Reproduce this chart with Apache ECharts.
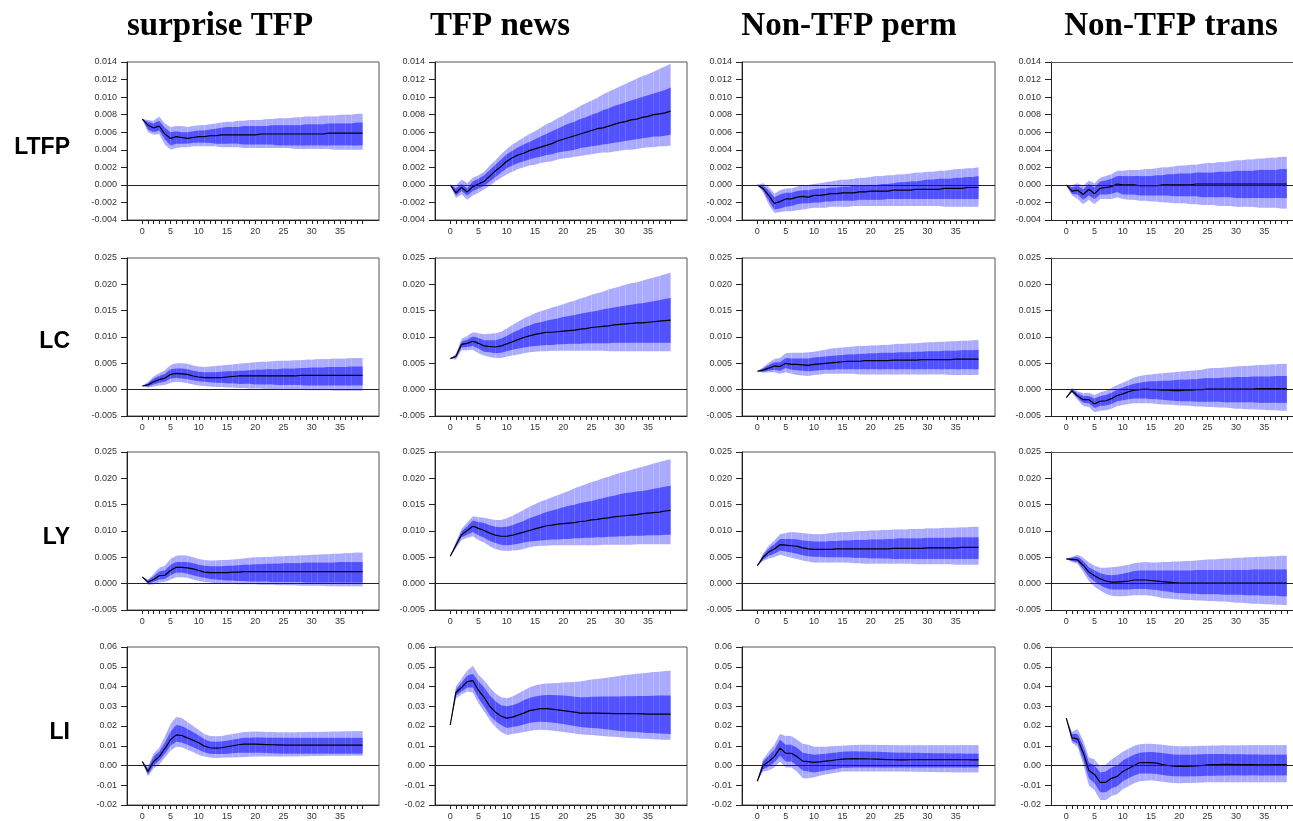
<!DOCTYPE html>
<html><head><meta charset="utf-8">
<script src="https://cdn.jsdelivr.net/npm/echarts@6/dist/echarts.min.js"></script>
<style>html,body{margin:0;padding:0;background:#fff}#c{width:1293px;height:821px}</style>
</head><body><div id="c"></div>
<script>
// ---------------- DATA ----------------
const shocks = ['surprise TFP', 'TFP news', 'Non-TFP perm', 'Non-TFP trans'];
const variables = ['LTFP', 'LC', 'LY', 'LI'];
const horizons = [0,1,2,3,4,5,6,7,8,9,10,11,12,13,14,15,16,17,18,19,20,21,22,23,24,25,26,27,28,29,30,31,32,33,34,35,36,37,38,39];
const xLabelValues = [0,5,10,15,20,25,30,35];
const yMinByRow = [-0.004, -0.005, -0.005, -0.02];
const yMaxByRow = [0.014, 0.025, 0.025, 0.06];
const yStepByRow = [0.002, 0.005, 0.005, 0.01];
const yDecimalsByRow = [3, 3, 3, 2];

// LTFP, surprise TFP
const LTFP_sur_med = [0.0075,0.0068,0.0065,0.0067,0.0058,0.0053,0.0055,0.0054,0.0053,0.0054,0.0055,0.0055,0.0056,0.0056,0.0057,0.0057,0.0057,0.0057,0.0057,0.0057,0.0057,0.0058,0.0058,0.0058,0.0058,0.0058,0.0058,0.0058,0.0058,0.0058,0.0058,0.0058,0.0058,0.0059,0.0059,0.0059,0.0059,0.0059,0.0059,0.0059];
const LTFP_sur_lo68 = [0.0075,0.0063,0.0060,0.0062,0.0052,0.0045,0.0047,0.0047,0.0047,0.0048,0.0048,0.0048,0.0048,0.0047,0.0047,0.0047,0.0047,0.0047,0.0046,0.0046,0.0046,0.0046,0.0046,0.0046,0.0045,0.0045,0.0045,0.0045,0.0045,0.0045,0.0045,0.0045,0.0045,0.0045,0.0045,0.0045,0.0045,0.0045,0.0045,0.0045];
const LTFP_sur_hi68 = [0.0075,0.0072,0.0070,0.0073,0.0065,0.0060,0.0061,0.0060,0.0060,0.0061,0.0062,0.0062,0.0063,0.0064,0.0065,0.0066,0.0066,0.0066,0.0067,0.0067,0.0067,0.0067,0.0067,0.0068,0.0068,0.0068,0.0068,0.0068,0.0068,0.0069,0.0069,0.0069,0.0069,0.0070,0.0070,0.0070,0.0070,0.0070,0.0071,0.0071];
const LTFP_sur_lo90 = [0.0075,0.0060,0.0057,0.0058,0.0046,0.0040,0.0042,0.0043,0.0043,0.0044,0.0044,0.0044,0.0044,0.0044,0.0043,0.0043,0.0043,0.0043,0.0042,0.0042,0.0042,0.0042,0.0042,0.0042,0.0042,0.0042,0.0042,0.0041,0.0041,0.0041,0.0041,0.0041,0.0041,0.0041,0.0040,0.0040,0.0040,0.0040,0.0040,0.0040];
const LTFP_sur_hi90 = [0.0075,0.0074,0.0073,0.0078,0.0070,0.0066,0.0067,0.0067,0.0066,0.0067,0.0068,0.0068,0.0069,0.0070,0.0071,0.0072,0.0072,0.0073,0.0073,0.0074,0.0074,0.0074,0.0075,0.0075,0.0076,0.0076,0.0076,0.0077,0.0077,0.0078,0.0078,0.0078,0.0079,0.0079,0.0079,0.0080,0.0080,0.0080,0.0081,0.0081];

// LTFP, TFP news
const LTFP_news_med = [0.0000,-0.0009,-0.0003,-0.0008,-0.0002,0.0001,0.0004,0.0010,0.0016,0.0021,0.0027,0.0031,0.0034,0.0036,0.0039,0.0041,0.0043,0.0045,0.0047,0.0050,0.0052,0.0054,0.0056,0.0058,0.0060,0.0062,0.0064,0.0065,0.0067,0.0069,0.0071,0.0072,0.0074,0.0075,0.0077,0.0078,0.0080,0.0081,0.0082,0.0084];
const LTFP_news_lo68 = [0.0000,-0.0012,-0.0007,-0.0012,-0.0007,-0.0004,-0.0001,0.0004,0.0009,0.0014,0.0019,0.0022,0.0025,0.0027,0.0029,0.0031,0.0032,0.0034,0.0035,0.0037,0.0038,0.0039,0.0040,0.0042,0.0043,0.0044,0.0045,0.0046,0.0047,0.0048,0.0049,0.0050,0.0051,0.0052,0.0053,0.0054,0.0055,0.0055,0.0056,0.0057];
const LTFP_news_hi68 = [0.0000,-0.0004,0.0001,-0.0004,0.0004,0.0007,0.0011,0.0017,0.0023,0.0029,0.0035,0.0039,0.0043,0.0046,0.0049,0.0052,0.0055,0.0058,0.0061,0.0064,0.0067,0.0070,0.0072,0.0075,0.0077,0.0080,0.0082,0.0085,0.0087,0.0090,0.0092,0.0094,0.0096,0.0098,0.0100,0.0102,0.0104,0.0106,0.0108,0.0111];
const LTFP_news_lo90 = [0.0000,-0.0015,-0.0011,-0.0017,-0.0012,-0.0009,-0.0005,-0.0001,0.0004,0.0008,0.0012,0.0015,0.0018,0.0020,0.0022,0.0023,0.0025,0.0026,0.0027,0.0029,0.0030,0.0031,0.0032,0.0033,0.0034,0.0035,0.0036,0.0037,0.0037,0.0038,0.0039,0.0040,0.0040,0.0041,0.0042,0.0043,0.0043,0.0044,0.0044,0.0045];
const LTFP_news_hi90 = [0.0000,-0.0001,0.0006,0.0002,0.0008,0.0011,0.0015,0.0022,0.0028,0.0035,0.0041,0.0046,0.0050,0.0054,0.0058,0.0061,0.0065,0.0069,0.0072,0.0076,0.0079,0.0083,0.0086,0.0090,0.0093,0.0096,0.0099,0.0103,0.0106,0.0109,0.0112,0.0115,0.0118,0.0121,0.0124,0.0126,0.0129,0.0132,0.0135,0.0138];

// LTFP, Non-TFP perm
const LTFP_perm_med = [0.0000,-0.0004,-0.0012,-0.0021,-0.0019,-0.0016,-0.0016,-0.0014,-0.0013,-0.0014,-0.0012,-0.0012,-0.0011,-0.0010,-0.0010,-0.0009,-0.0009,-0.0009,-0.0008,-0.0008,-0.0007,-0.0007,-0.0007,-0.0007,-0.0006,-0.0006,-0.0006,-0.0006,-0.0005,-0.0005,-0.0005,-0.0005,-0.0005,-0.0004,-0.0004,-0.0004,-0.0004,-0.0003,-0.0003,-0.0003];
const LTFP_perm_lo68 = [0.0000,-0.0006,-0.0018,-0.0028,-0.0027,-0.0025,-0.0024,-0.0022,-0.0021,-0.0021,-0.0020,-0.0020,-0.0019,-0.0019,-0.0018,-0.0018,-0.0018,-0.0018,-0.0017,-0.0017,-0.0017,-0.0017,-0.0017,-0.0016,-0.0016,-0.0016,-0.0016,-0.0016,-0.0016,-0.0016,-0.0016,-0.0016,-0.0016,-0.0016,-0.0016,-0.0016,-0.0016,-0.0016,-0.0016,-0.0016];
const LTFP_perm_hi68 = [0.0000,-0.0001,-0.0006,-0.0014,-0.0011,-0.0009,-0.0009,-0.0007,-0.0006,-0.0006,-0.0005,-0.0004,-0.0004,-0.0003,-0.0003,-0.0002,-0.0002,-0.0001,-0.0001,0.0000,0.0000,0.0000,0.0001,0.0001,0.0002,0.0003,0.0003,0.0004,0.0004,0.0005,0.0006,0.0006,0.0007,0.0007,0.0007,0.0008,0.0008,0.0009,0.0009,0.0010];
const LTFP_perm_lo90 = [0.0000,-0.0008,-0.0022,-0.0032,-0.0031,-0.0030,-0.0030,-0.0029,-0.0028,-0.0027,-0.0026,-0.0026,-0.0026,-0.0025,-0.0025,-0.0025,-0.0025,-0.0024,-0.0024,-0.0024,-0.0024,-0.0024,-0.0024,-0.0024,-0.0024,-0.0024,-0.0024,-0.0024,-0.0024,-0.0024,-0.0024,-0.0024,-0.0024,-0.0025,-0.0025,-0.0025,-0.0025,-0.0025,-0.0025,-0.0025];
const LTFP_perm_hi90 = [0.0000,0.0002,-0.0002,-0.0010,-0.0006,-0.0004,-0.0004,-0.0002,0.0000,0.0000,0.0001,0.0002,0.0003,0.0004,0.0005,0.0006,0.0006,0.0007,0.0008,0.0008,0.0009,0.0010,0.0010,0.0011,0.0011,0.0012,0.0012,0.0013,0.0014,0.0014,0.0015,0.0015,0.0016,0.0016,0.0017,0.0018,0.0018,0.0019,0.0019,0.0020];

// LTFP, Non-TFP trans
const LTFP_trans_med = [0.0000,-0.0007,-0.0006,-0.0011,-0.0005,-0.0010,-0.0004,-0.0003,-0.0002,0.0001,0.0000,0.0000,0.0000,-0.0001,-0.0001,-0.0001,-0.0001,0.0000,0.0000,0.0000,0.0000,0.0000,0.0000,0.0001,0.0001,0.0001,0.0001,0.0001,0.0001,0.0001,0.0001,0.0001,0.0001,0.0001,0.0001,0.0001,0.0001,0.0001,0.0001,0.0001];
const LTFP_trans_lo68 = [0.0000,-0.0010,-0.0011,-0.0017,-0.0012,-0.0016,-0.0011,-0.0011,-0.0010,-0.0008,-0.0011,-0.0011,-0.0011,-0.0012,-0.0012,-0.0012,-0.0012,-0.0012,-0.0012,-0.0013,-0.0013,-0.0013,-0.0013,-0.0013,-0.0014,-0.0014,-0.0014,-0.0014,-0.0014,-0.0014,-0.0015,-0.0015,-0.0015,-0.0015,-0.0015,-0.0015,-0.0015,-0.0015,-0.0015,-0.0015];
const LTFP_trans_hi68 = [0.0000,-0.0003,-0.0001,-0.0005,0.0001,-0.0003,0.0004,0.0005,0.0007,0.0010,0.0010,0.0010,0.0010,0.0010,0.0010,0.0010,0.0011,0.0011,0.0012,0.0012,0.0013,0.0013,0.0013,0.0014,0.0014,0.0014,0.0014,0.0015,0.0015,0.0015,0.0016,0.0016,0.0016,0.0016,0.0017,0.0017,0.0017,0.0017,0.0018,0.0018];
const LTFP_trans_lo90 = [0.0000,-0.0012,-0.0016,-0.0022,-0.0017,-0.0022,-0.0016,-0.0016,-0.0016,-0.0014,-0.0016,-0.0017,-0.0017,-0.0018,-0.0018,-0.0019,-0.0019,-0.0020,-0.0020,-0.0021,-0.0021,-0.0021,-0.0022,-0.0022,-0.0023,-0.0023,-0.0023,-0.0024,-0.0024,-0.0024,-0.0025,-0.0025,-0.0025,-0.0025,-0.0026,-0.0026,-0.0026,-0.0026,-0.0027,-0.0027];
const LTFP_trans_hi90 = [0.0000,0.0000,0.0002,-0.0001,0.0005,0.0002,0.0008,0.0010,0.0012,0.0016,0.0016,0.0017,0.0017,0.0017,0.0018,0.0018,0.0019,0.0020,0.0020,0.0021,0.0022,0.0022,0.0023,0.0023,0.0024,0.0025,0.0025,0.0026,0.0026,0.0027,0.0028,0.0028,0.0029,0.0029,0.0030,0.0030,0.0031,0.0031,0.0032,0.0032];

// LC, surprise TFP
const LC_sur_med = [0.0007,0.0009,0.0015,0.0019,0.0022,0.0029,0.0031,0.0030,0.0029,0.0026,0.0024,0.0023,0.0023,0.0023,0.0023,0.0024,0.0025,0.0026,0.0026,0.0026,0.0026,0.0026,0.0026,0.0026,0.0026,0.0026,0.0026,0.0026,0.0027,0.0027,0.0027,0.0027,0.0027,0.0027,0.0027,0.0027,0.0027,0.0027,0.0027,0.0027];
const LC_sur_lo68 = [0.0007,0.0006,0.0010,0.0013,0.0015,0.0021,0.0022,0.0021,0.0020,0.0018,0.0016,0.0015,0.0014,0.0013,0.0013,0.0012,0.0012,0.0011,0.0011,0.0011,0.0010,0.0010,0.0010,0.0010,0.0009,0.0009,0.0009,0.0009,0.0009,0.0008,0.0008,0.0008,0.0008,0.0008,0.0008,0.0008,0.0008,0.0008,0.0008,0.0008];
const LC_sur_hi68 = [0.0007,0.0012,0.0021,0.0026,0.0030,0.0039,0.0040,0.0040,0.0039,0.0036,0.0034,0.0033,0.0033,0.0033,0.0034,0.0035,0.0035,0.0036,0.0036,0.0037,0.0038,0.0038,0.0039,0.0039,0.0039,0.0040,0.0040,0.0040,0.0041,0.0041,0.0042,0.0042,0.0042,0.0043,0.0043,0.0043,0.0043,0.0044,0.0044,0.0044];
const LC_sur_lo90 = [0.0007,0.0004,0.0006,0.0008,0.0009,0.0013,0.0015,0.0014,0.0012,0.0010,0.0008,0.0007,0.0006,0.0005,0.0005,0.0004,0.0004,0.0003,0.0003,0.0002,0.0002,0.0002,0.0001,0.0001,0.0001,0.0000,0.0000,0.0000,0.0000,-0.0001,-0.0001,-0.0001,-0.0001,-0.0001,-0.0002,-0.0002,-0.0002,-0.0002,-0.0002,-0.0002];
const LC_sur_hi90 = [0.0007,0.0014,0.0025,0.0031,0.0037,0.0047,0.0050,0.0050,0.0049,0.0046,0.0044,0.0043,0.0044,0.0045,0.0046,0.0047,0.0048,0.0049,0.0050,0.0051,0.0052,0.0053,0.0053,0.0054,0.0055,0.0055,0.0055,0.0056,0.0056,0.0057,0.0057,0.0058,0.0058,0.0058,0.0059,0.0059,0.0059,0.0060,0.0060,0.0060];

// LC, TFP news
const LC_news_med = [0.0059,0.0063,0.0086,0.0088,0.0092,0.0088,0.0083,0.0082,0.0081,0.0083,0.0087,0.0091,0.0095,0.0099,0.0102,0.0105,0.0107,0.0109,0.0109,0.0110,0.0111,0.0112,0.0113,0.0115,0.0116,0.0118,0.0119,0.0120,0.0121,0.0123,0.0124,0.0125,0.0126,0.0127,0.0127,0.0128,0.0129,0.0130,0.0131,0.0132];
const LC_news_lo68 = [0.0059,0.0061,0.0080,0.0081,0.0083,0.0078,0.0072,0.0071,0.0069,0.0070,0.0073,0.0076,0.0078,0.0080,0.0082,0.0083,0.0084,0.0085,0.0085,0.0086,0.0086,0.0087,0.0087,0.0087,0.0088,0.0088,0.0088,0.0088,0.0088,0.0089,0.0089,0.0089,0.0089,0.0089,0.0089,0.0089,0.0089,0.0089,0.0089,0.0089];
const LC_news_hi68 = [0.0059,0.0066,0.0091,0.0095,0.0101,0.0098,0.0094,0.0094,0.0094,0.0097,0.0102,0.0108,0.0113,0.0118,0.0122,0.0126,0.0128,0.0131,0.0133,0.0135,0.0138,0.0140,0.0142,0.0144,0.0146,0.0148,0.0150,0.0152,0.0154,0.0156,0.0158,0.0160,0.0161,0.0163,0.0164,0.0166,0.0168,0.0170,0.0172,0.0174];
const LC_news_lo90 = [0.0059,0.0057,0.0075,0.0075,0.0076,0.0069,0.0065,0.0062,0.0060,0.0060,0.0063,0.0065,0.0067,0.0069,0.0071,0.0072,0.0073,0.0073,0.0074,0.0074,0.0074,0.0074,0.0074,0.0074,0.0074,0.0074,0.0074,0.0074,0.0073,0.0073,0.0073,0.0073,0.0073,0.0073,0.0073,0.0073,0.0073,0.0073,0.0073,0.0073];
const LC_news_hi90 = [0.0059,0.0068,0.0096,0.0102,0.0109,0.0107,0.0105,0.0106,0.0107,0.0110,0.0116,0.0123,0.0129,0.0135,0.0140,0.0145,0.0149,0.0152,0.0156,0.0159,0.0162,0.0166,0.0169,0.0173,0.0176,0.0180,0.0183,0.0186,0.0190,0.0193,0.0196,0.0199,0.0202,0.0204,0.0207,0.0210,0.0213,0.0216,0.0219,0.0222];

// LC, Non-TFP perm
const LC_perm_med = [0.0035,0.0037,0.0041,0.0045,0.0044,0.0050,0.0048,0.0048,0.0047,0.0046,0.0048,0.0049,0.0050,0.0051,0.0052,0.0053,0.0054,0.0054,0.0054,0.0055,0.0055,0.0055,0.0055,0.0055,0.0056,0.0056,0.0056,0.0056,0.0056,0.0057,0.0057,0.0057,0.0057,0.0057,0.0057,0.0058,0.0058,0.0058,0.0058,0.0058];
const LC_perm_lo68 = [0.0035,0.0034,0.0036,0.0038,0.0036,0.0041,0.0038,0.0037,0.0036,0.0035,0.0036,0.0037,0.0038,0.0038,0.0039,0.0039,0.0039,0.0039,0.0039,0.0039,0.0039,0.0039,0.0039,0.0039,0.0039,0.0039,0.0039,0.0039,0.0039,0.0039,0.0039,0.0039,0.0039,0.0039,0.0039,0.0039,0.0039,0.0039,0.0039,0.0039];
const LC_perm_hi68 = [0.0035,0.0040,0.0047,0.0052,0.0052,0.0060,0.0059,0.0059,0.0059,0.0059,0.0061,0.0062,0.0063,0.0064,0.0065,0.0066,0.0067,0.0067,0.0068,0.0068,0.0069,0.0069,0.0070,0.0070,0.0070,0.0071,0.0071,0.0071,0.0072,0.0072,0.0073,0.0073,0.0073,0.0074,0.0074,0.0074,0.0075,0.0075,0.0075,0.0076];
const LC_perm_lo90 = [0.0035,0.0032,0.0033,0.0033,0.0030,0.0033,0.0030,0.0028,0.0027,0.0026,0.0028,0.0029,0.0030,0.0030,0.0030,0.0030,0.0030,0.0030,0.0029,0.0029,0.0029,0.0029,0.0029,0.0029,0.0029,0.0029,0.0029,0.0029,0.0029,0.0029,0.0029,0.0029,0.0029,0.0029,0.0028,0.0028,0.0028,0.0028,0.0028,0.0028];
const LC_perm_hi90 = [0.0035,0.0042,0.0051,0.0058,0.0060,0.0069,0.0070,0.0070,0.0070,0.0071,0.0072,0.0074,0.0076,0.0078,0.0079,0.0080,0.0081,0.0082,0.0083,0.0083,0.0084,0.0084,0.0085,0.0085,0.0086,0.0087,0.0087,0.0088,0.0088,0.0089,0.0090,0.0090,0.0091,0.0091,0.0092,0.0092,0.0093,0.0093,0.0094,0.0094];

// LC, Non-TFP trans
const LC_trans_med = [-0.0015,-0.0002,-0.0012,-0.0019,-0.0019,-0.0027,-0.0022,-0.0021,-0.0017,-0.0011,-0.0008,-0.0004,-0.0001,0.0000,0.0001,0.0000,0.0000,-0.0001,-0.0001,-0.0002,-0.0002,-0.0001,-0.0001,0.0000,0.0000,0.0001,0.0001,0.0001,0.0001,0.0001,0.0001,0.0001,0.0001,0.0001,0.0002,0.0002,0.0002,0.0002,0.0002,0.0002];
const LC_trans_lo68 = [-0.0015,-0.0004,-0.0016,-0.0025,-0.0026,-0.0035,-0.0031,-0.0030,-0.0027,-0.0022,-0.0020,-0.0018,-0.0017,-0.0017,-0.0017,-0.0018,-0.0018,-0.0019,-0.0020,-0.0021,-0.0022,-0.0022,-0.0022,-0.0023,-0.0023,-0.0023,-0.0023,-0.0023,-0.0024,-0.0024,-0.0024,-0.0024,-0.0024,-0.0024,-0.0025,-0.0025,-0.0025,-0.0025,-0.0025,-0.0025];
const LC_trans_hi68 = [-0.0015,0.0001,-0.0007,-0.0012,-0.0012,-0.0017,-0.0012,-0.0010,-0.0006,0.0000,0.0004,0.0008,0.0011,0.0013,0.0015,0.0016,0.0016,0.0017,0.0017,0.0018,0.0019,0.0019,0.0020,0.0020,0.0021,0.0022,0.0022,0.0022,0.0023,0.0023,0.0024,0.0024,0.0024,0.0025,0.0025,0.0025,0.0025,0.0026,0.0026,0.0026];
const LC_trans_lo90 = [-0.0015,-0.0006,-0.0019,-0.0031,-0.0033,-0.0043,-0.0040,-0.0039,-0.0036,-0.0031,-0.0029,-0.0027,-0.0026,-0.0026,-0.0026,-0.0026,-0.0027,-0.0028,-0.0028,-0.0029,-0.0030,-0.0030,-0.0031,-0.0032,-0.0032,-0.0033,-0.0033,-0.0034,-0.0034,-0.0035,-0.0036,-0.0036,-0.0037,-0.0037,-0.0038,-0.0038,-0.0039,-0.0039,-0.0040,-0.0040];
const LC_trans_hi90 = [-0.0015,0.0003,-0.0003,-0.0007,-0.0006,-0.0010,-0.0005,-0.0002,0.0003,0.0009,0.0013,0.0018,0.0023,0.0026,0.0028,0.0029,0.0030,0.0031,0.0032,0.0033,0.0034,0.0035,0.0036,0.0037,0.0038,0.0040,0.0041,0.0041,0.0042,0.0043,0.0044,0.0045,0.0045,0.0046,0.0047,0.0047,0.0048,0.0048,0.0049,0.0049];

// LY, surprise TFP
const LY_sur_med = [0.0013,0.0003,0.0008,0.0015,0.0016,0.0025,0.0031,0.0031,0.0030,0.0028,0.0025,0.0022,0.0021,0.0021,0.0021,0.0021,0.0022,0.0022,0.0023,0.0023,0.0023,0.0023,0.0023,0.0023,0.0023,0.0023,0.0023,0.0023,0.0023,0.0023,0.0023,0.0023,0.0023,0.0023,0.0023,0.0023,0.0023,0.0023,0.0023,0.0023];
const LY_sur_lo68 = [0.0013,0.0001,0.0003,0.0008,0.0009,0.0016,0.0021,0.0021,0.0019,0.0016,0.0013,0.0011,0.0009,0.0008,0.0007,0.0006,0.0006,0.0005,0.0005,0.0004,0.0004,0.0004,0.0004,0.0003,0.0003,0.0003,0.0003,0.0003,0.0003,0.0002,0.0002,0.0002,0.0002,0.0002,0.0002,0.0002,0.0002,0.0002,0.0002,0.0002];
const LY_sur_hi68 = [0.0013,0.0006,0.0014,0.0023,0.0025,0.0036,0.0041,0.0041,0.0041,0.0039,0.0036,0.0034,0.0033,0.0033,0.0033,0.0034,0.0034,0.0035,0.0036,0.0036,0.0037,0.0037,0.0038,0.0038,0.0038,0.0039,0.0039,0.0039,0.0039,0.0040,0.0040,0.0040,0.0040,0.0040,0.0040,0.0041,0.0041,0.0041,0.0041,0.0041];
const LY_sur_lo90 = [0.0013,-0.0002,-0.0001,0.0002,0.0003,0.0008,0.0012,0.0012,0.0011,0.0008,0.0005,0.0003,0.0002,0.0001,0.0000,0.0000,0.0000,-0.0001,-0.0001,-0.0001,-0.0001,-0.0002,-0.0002,-0.0002,-0.0003,-0.0003,-0.0003,-0.0003,-0.0004,-0.0004,-0.0004,-0.0004,-0.0004,-0.0005,-0.0005,-0.0005,-0.0005,-0.0005,-0.0005,-0.0005];
const LY_sur_hi90 = [0.0013,0.0008,0.0018,0.0030,0.0034,0.0047,0.0053,0.0054,0.0053,0.0050,0.0047,0.0045,0.0044,0.0044,0.0045,0.0045,0.0046,0.0047,0.0048,0.0049,0.0050,0.0050,0.0051,0.0051,0.0052,0.0052,0.0053,0.0053,0.0054,0.0054,0.0055,0.0055,0.0056,0.0056,0.0057,0.0057,0.0058,0.0058,0.0059,0.0059];

// LY, TFP news
const LY_news_med = [0.0052,0.0073,0.0093,0.0101,0.0109,0.0105,0.0101,0.0096,0.0092,0.0090,0.0090,0.0092,0.0095,0.0098,0.0101,0.0104,0.0107,0.0110,0.0111,0.0113,0.0114,0.0115,0.0116,0.0118,0.0119,0.0121,0.0122,0.0124,0.0125,0.0127,0.0128,0.0129,0.0130,0.0131,0.0133,0.0134,0.0135,0.0136,0.0138,0.0139];
const LY_news_lo68 = [0.0052,0.0070,0.0088,0.0093,0.0098,0.0092,0.0087,0.0081,0.0077,0.0074,0.0073,0.0074,0.0076,0.0078,0.0080,0.0081,0.0082,0.0083,0.0084,0.0084,0.0085,0.0085,0.0086,0.0086,0.0087,0.0087,0.0088,0.0088,0.0089,0.0089,0.0090,0.0090,0.0091,0.0091,0.0091,0.0092,0.0092,0.0092,0.0093,0.0093];
const LY_news_hi68 = [0.0052,0.0076,0.0099,0.0109,0.0120,0.0117,0.0115,0.0111,0.0108,0.0107,0.0108,0.0111,0.0115,0.0119,0.0124,0.0128,0.0132,0.0136,0.0139,0.0142,0.0145,0.0148,0.0150,0.0153,0.0155,0.0157,0.0160,0.0162,0.0165,0.0167,0.0170,0.0172,0.0173,0.0175,0.0176,0.0178,0.0180,0.0182,0.0184,0.0186];
const LY_news_lo90 = [0.0052,0.0067,0.0083,0.0087,0.0090,0.0083,0.0078,0.0071,0.0066,0.0063,0.0062,0.0063,0.0064,0.0066,0.0069,0.0071,0.0072,0.0072,0.0073,0.0073,0.0073,0.0073,0.0073,0.0073,0.0073,0.0073,0.0073,0.0074,0.0074,0.0074,0.0074,0.0074,0.0074,0.0075,0.0075,0.0075,0.0075,0.0075,0.0075,0.0075];
const LY_news_hi90 = [0.0052,0.0079,0.0104,0.0116,0.0128,0.0126,0.0125,0.0123,0.0121,0.0121,0.0124,0.0129,0.0134,0.0140,0.0146,0.0151,0.0156,0.0160,0.0164,0.0168,0.0172,0.0176,0.0181,0.0185,0.0189,0.0193,0.0196,0.0200,0.0203,0.0207,0.0210,0.0213,0.0216,0.0219,0.0222,0.0225,0.0228,0.0231,0.0234,0.0236];

// LY, Non-TFP perm
const LY_perm_med = [0.0034,0.0050,0.0060,0.0066,0.0074,0.0073,0.0072,0.0071,0.0068,0.0066,0.0065,0.0065,0.0065,0.0065,0.0066,0.0066,0.0066,0.0066,0.0066,0.0066,0.0066,0.0066,0.0066,0.0066,0.0067,0.0067,0.0067,0.0067,0.0067,0.0067,0.0068,0.0068,0.0068,0.0068,0.0068,0.0068,0.0069,0.0069,0.0069,0.0069];
const LY_perm_lo68 = [0.0034,0.0046,0.0053,0.0057,0.0063,0.0061,0.0059,0.0057,0.0054,0.0052,0.0051,0.0051,0.0050,0.0050,0.0050,0.0050,0.0050,0.0049,0.0049,0.0049,0.0048,0.0048,0.0048,0.0048,0.0047,0.0047,0.0047,0.0047,0.0047,0.0047,0.0047,0.0047,0.0047,0.0047,0.0047,0.0047,0.0047,0.0047,0.0047,0.0047];
const LY_perm_hi68 = [0.0034,0.0054,0.0067,0.0075,0.0085,0.0085,0.0085,0.0084,0.0082,0.0081,0.0080,0.0080,0.0080,0.0081,0.0081,0.0082,0.0082,0.0083,0.0083,0.0083,0.0084,0.0084,0.0084,0.0085,0.0085,0.0086,0.0086,0.0086,0.0086,0.0086,0.0087,0.0087,0.0087,0.0087,0.0087,0.0088,0.0088,0.0088,0.0088,0.0088];
const LY_perm_lo90 = [0.0034,0.0043,0.0048,0.0050,0.0055,0.0052,0.0049,0.0047,0.0044,0.0042,0.0040,0.0040,0.0040,0.0040,0.0040,0.0040,0.0040,0.0039,0.0039,0.0038,0.0038,0.0038,0.0038,0.0038,0.0038,0.0038,0.0038,0.0038,0.0037,0.0037,0.0037,0.0037,0.0037,0.0037,0.0037,0.0036,0.0036,0.0036,0.0036,0.0036];
const LY_perm_hi90 = [0.0034,0.0057,0.0072,0.0082,0.0094,0.0096,0.0098,0.0097,0.0096,0.0095,0.0094,0.0094,0.0095,0.0096,0.0097,0.0098,0.0098,0.0099,0.0100,0.0100,0.0101,0.0101,0.0102,0.0102,0.0103,0.0103,0.0103,0.0104,0.0104,0.0104,0.0105,0.0105,0.0105,0.0106,0.0106,0.0106,0.0107,0.0107,0.0108,0.0108];

// LY, Non-TFP trans
const LY_trans_med = [0.0047,0.0046,0.0045,0.0035,0.0022,0.0015,0.0009,0.0005,0.0003,0.0003,0.0004,0.0005,0.0007,0.0007,0.0007,0.0006,0.0005,0.0004,0.0003,0.0002,0.0001,0.0001,0.0001,0.0001,0.0001,0.0001,0.0001,0.0001,0.0001,0.0001,0.0001,0.0001,0.0001,0.0001,0.0001,0.0001,0.0001,0.0001,0.0001,0.0001];
const LY_trans_lo68 = [0.0047,0.0043,0.0041,0.0028,0.0013,0.0004,-0.0003,-0.0008,-0.0011,-0.0011,-0.0011,-0.0011,-0.0010,-0.0010,-0.0010,-0.0011,-0.0012,-0.0014,-0.0015,-0.0017,-0.0018,-0.0018,-0.0019,-0.0019,-0.0020,-0.0020,-0.0020,-0.0020,-0.0021,-0.0021,-0.0021,-0.0021,-0.0022,-0.0022,-0.0022,-0.0023,-0.0023,-0.0023,-0.0024,-0.0024];
const LY_trans_hi68 = [0.0047,0.0049,0.0051,0.0043,0.0031,0.0025,0.0020,0.0017,0.0016,0.0017,0.0019,0.0021,0.0024,0.0025,0.0025,0.0025,0.0025,0.0025,0.0025,0.0025,0.0025,0.0025,0.0025,0.0026,0.0026,0.0026,0.0026,0.0026,0.0026,0.0026,0.0026,0.0026,0.0026,0.0027,0.0027,0.0027,0.0027,0.0027,0.0027,0.0027];
const LY_trans_lo90 = [0.0047,0.0041,0.0038,0.0022,0.0005,-0.0006,-0.0013,-0.0019,-0.0023,-0.0024,-0.0024,-0.0023,-0.0022,-0.0022,-0.0022,-0.0023,-0.0025,-0.0027,-0.0028,-0.0029,-0.0030,-0.0031,-0.0031,-0.0032,-0.0032,-0.0033,-0.0033,-0.0034,-0.0034,-0.0035,-0.0036,-0.0036,-0.0037,-0.0038,-0.0038,-0.0039,-0.0039,-0.0040,-0.0040,-0.0041];
const LY_trans_hi90 = [0.0047,0.0051,0.0055,0.0049,0.0040,0.0034,0.0030,0.0030,0.0031,0.0032,0.0034,0.0036,0.0039,0.0040,0.0041,0.0040,0.0040,0.0041,0.0041,0.0042,0.0042,0.0043,0.0043,0.0044,0.0045,0.0046,0.0046,0.0047,0.0048,0.0048,0.0049,0.0049,0.0050,0.0050,0.0051,0.0051,0.0052,0.0052,0.0053,0.0053];

// LI, surprise TFP
const LI_sur_med = [0.0020,-0.0030,0.0020,0.0045,0.0085,0.0130,0.0155,0.0152,0.0140,0.0128,0.0115,0.0098,0.0090,0.0088,0.0090,0.0095,0.0100,0.0105,0.0108,0.0108,0.0108,0.0107,0.0106,0.0105,0.0104,0.0103,0.0103,0.0103,0.0103,0.0103,0.0103,0.0103,0.0103,0.0103,0.0103,0.0103,0.0103,0.0103,0.0103,0.0103];
const LI_sur_lo68 = [0.0020,-0.0045,0.0000,0.0025,0.0060,0.0100,0.0120,0.0117,0.0105,0.0093,0.0080,0.0067,0.0060,0.0058,0.0058,0.0060,0.0062,0.0064,0.0065,0.0065,0.0065,0.0064,0.0063,0.0062,0.0061,0.0060,0.0060,0.0060,0.0060,0.0060,0.0060,0.0060,0.0060,0.0060,0.0060,0.0060,0.0060,0.0060,0.0060,0.0060];
const LI_sur_hi68 = [0.0020,-0.0015,0.0045,0.0070,0.0115,0.0170,0.0205,0.0200,0.0185,0.0170,0.0152,0.0133,0.0122,0.0120,0.0122,0.0125,0.0130,0.0135,0.0140,0.0141,0.0142,0.0142,0.0141,0.0141,0.0140,0.0140,0.0140,0.0140,0.0140,0.0140,0.0140,0.0140,0.0140,0.0140,0.0140,0.0140,0.0140,0.0140,0.0140,0.0140];
const LI_sur_lo90 = [0.0020,-0.0055,-0.0015,0.0005,0.0040,0.0075,0.0095,0.0092,0.0080,0.0068,0.0055,0.0045,0.0040,0.0038,0.0039,0.0040,0.0041,0.0042,0.0043,0.0044,0.0045,0.0045,0.0045,0.0045,0.0045,0.0045,0.0046,0.0046,0.0047,0.0047,0.0048,0.0048,0.0048,0.0049,0.0049,0.0049,0.0050,0.0050,0.0050,0.0050];
const LI_sur_hi90 = [0.0020,-0.0005,0.0060,0.0090,0.0145,0.0210,0.0245,0.0240,0.0220,0.0200,0.0180,0.0160,0.0150,0.0148,0.0150,0.0155,0.0160,0.0165,0.0170,0.0171,0.0172,0.0171,0.0170,0.0169,0.0168,0.0168,0.0168,0.0168,0.0169,0.0169,0.0170,0.0170,0.0171,0.0171,0.0172,0.0172,0.0173,0.0174,0.0174,0.0175];

// LI, TFP news
const LI_news_med = [0.0205,0.0370,0.0395,0.0425,0.0430,0.0380,0.0345,0.0300,0.0270,0.0250,0.0240,0.0245,0.0255,0.0265,0.0278,0.0283,0.0288,0.0288,0.0285,0.0282,0.0278,0.0274,0.0270,0.0265,0.0265,0.0265,0.0265,0.0264,0.0264,0.0263,0.0263,0.0263,0.0262,0.0262,0.0261,0.0260,0.0260,0.0260,0.0260,0.0260];
const LI_news_lo68 = [0.0205,0.0355,0.0375,0.0395,0.0395,0.0340,0.0300,0.0255,0.0225,0.0205,0.0190,0.0195,0.0200,0.0208,0.0215,0.0220,0.0221,0.0220,0.0218,0.0214,0.0210,0.0205,0.0200,0.0195,0.0192,0.0190,0.0188,0.0185,0.0182,0.0178,0.0175,0.0173,0.0171,0.0169,0.0167,0.0165,0.0164,0.0162,0.0161,0.0160];
const LI_news_hi68 = [0.0205,0.0385,0.0420,0.0455,0.0465,0.0425,0.0395,0.0355,0.0325,0.0305,0.0300,0.0305,0.0315,0.0330,0.0342,0.0350,0.0355,0.0357,0.0357,0.0356,0.0355,0.0352,0.0348,0.0345,0.0346,0.0348,0.0348,0.0349,0.0349,0.0350,0.0350,0.0351,0.0351,0.0352,0.0352,0.0352,0.0353,0.0354,0.0354,0.0355];
const LI_news_lo90 = [0.0205,0.0340,0.0360,0.0375,0.0370,0.0315,0.0275,0.0230,0.0195,0.0170,0.0155,0.0160,0.0165,0.0170,0.0175,0.0180,0.0181,0.0180,0.0177,0.0173,0.0170,0.0166,0.0162,0.0158,0.0156,0.0155,0.0152,0.0150,0.0147,0.0145,0.0143,0.0141,0.0139,0.0138,0.0136,0.0135,0.0133,0.0132,0.0131,0.0130];
const LI_news_hi90 = [0.0205,0.0400,0.0440,0.0480,0.0505,0.0460,0.0430,0.0395,0.0365,0.0345,0.0340,0.0350,0.0365,0.0380,0.0395,0.0405,0.0412,0.0415,0.0417,0.0418,0.0420,0.0421,0.0423,0.0425,0.0430,0.0435,0.0438,0.0442,0.0446,0.0450,0.0455,0.0458,0.0461,0.0464,0.0467,0.0470,0.0473,0.0475,0.0478,0.0480];

// LI, Non-TFP perm
const LI_perm_med = [-0.0080,0.0000,0.0020,0.0045,0.0088,0.0062,0.0062,0.0045,0.0022,0.0020,0.0016,0.0018,0.0022,0.0025,0.0029,0.0032,0.0034,0.0035,0.0034,0.0034,0.0033,0.0032,0.0031,0.0030,0.0029,0.0028,0.0028,0.0029,0.0029,0.0030,0.0030,0.0030,0.0030,0.0030,0.0030,0.0030,0.0029,0.0029,0.0028,0.0028];
const LI_perm_lo68 = [-0.0080,-0.0020,-0.0005,0.0015,0.0050,0.0020,0.0020,0.0000,-0.0025,-0.0030,-0.0035,-0.0030,-0.0025,-0.0020,-0.0016,-0.0012,-0.0011,-0.0010,-0.0010,-0.0010,-0.0010,-0.0010,-0.0010,-0.0010,-0.0010,-0.0010,-0.0010,-0.0010,-0.0010,-0.0010,-0.0010,-0.0010,-0.0010,-0.0010,-0.0010,-0.0010,-0.0010,-0.0010,-0.0010,-0.0010];
const LI_perm_hi68 = [-0.0080,0.0020,0.0050,0.0080,0.0130,0.0105,0.0105,0.0090,0.0065,0.0060,0.0055,0.0057,0.0060,0.0063,0.0066,0.0070,0.0071,0.0072,0.0071,0.0071,0.0070,0.0069,0.0068,0.0067,0.0066,0.0065,0.0065,0.0064,0.0064,0.0063,0.0063,0.0062,0.0062,0.0062,0.0061,0.0061,0.0061,0.0060,0.0060,0.0060];
const LI_perm_lo90 = [-0.0080,-0.0030,-0.0025,-0.0010,0.0020,-0.0010,-0.0010,-0.0030,-0.0065,-0.0065,-0.0060,-0.0052,-0.0045,-0.0040,-0.0035,-0.0030,-0.0030,-0.0030,-0.0030,-0.0030,-0.0030,-0.0030,-0.0030,-0.0030,-0.0030,-0.0030,-0.0031,-0.0031,-0.0032,-0.0032,-0.0033,-0.0033,-0.0034,-0.0034,-0.0034,-0.0035,-0.0035,-0.0035,-0.0035,-0.0035];
const LI_perm_hi90 = [-0.0080,0.0030,0.0070,0.0105,0.0160,0.0150,0.0150,0.0130,0.0110,0.0105,0.0095,0.0095,0.0095,0.0097,0.0099,0.0100,0.0102,0.0104,0.0105,0.0105,0.0105,0.0104,0.0104,0.0104,0.0103,0.0103,0.0103,0.0103,0.0103,0.0103,0.0103,0.0103,0.0103,0.0103,0.0103,0.0103,0.0103,0.0103,0.0103,0.0103];

// LI, Non-TFP trans
const LI_trans_med = [0.0240,0.0140,0.0135,0.0065,-0.0025,-0.0045,-0.0085,-0.0085,-0.0065,-0.0055,-0.0030,-0.0015,0.0000,0.0015,0.0015,0.0015,0.0012,0.0005,0.0000,-0.0003,-0.0004,-0.0004,-0.0003,-0.0002,0.0000,0.0003,0.0004,0.0005,0.0006,0.0006,0.0005,0.0005,0.0004,0.0004,0.0003,0.0003,0.0003,0.0004,0.0004,0.0004];
const LI_trans_lo68 = [0.0240,0.0125,0.0110,0.0030,-0.0065,-0.0090,-0.0135,-0.0135,-0.0115,-0.0105,-0.0080,-0.0065,-0.0050,-0.0040,-0.0040,-0.0040,-0.0043,-0.0048,-0.0052,-0.0054,-0.0055,-0.0055,-0.0055,-0.0054,-0.0053,-0.0052,-0.0052,-0.0051,-0.0051,-0.0050,-0.0050,-0.0050,-0.0050,-0.0050,-0.0050,-0.0050,-0.0050,-0.0050,-0.0050,-0.0050];
const LI_trans_hi68 = [0.0240,0.0160,0.0160,0.0100,0.0015,0.0000,-0.0035,-0.0030,-0.0010,0.0000,0.0025,0.0040,0.0055,0.0065,0.0067,0.0068,0.0066,0.0063,0.0059,0.0056,0.0055,0.0055,0.0055,0.0056,0.0057,0.0058,0.0058,0.0058,0.0058,0.0057,0.0057,0.0057,0.0056,0.0056,0.0056,0.0055,0.0055,0.0055,0.0055,0.0055];
const LI_trans_lo90 = [0.0240,0.0115,0.0095,0.0005,-0.0100,-0.0125,-0.0175,-0.0175,-0.0155,-0.0145,-0.0120,-0.0105,-0.0090,-0.0080,-0.0077,-0.0075,-0.0078,-0.0082,-0.0086,-0.0088,-0.0090,-0.0089,-0.0088,-0.0087,-0.0086,-0.0085,-0.0085,-0.0085,-0.0085,-0.0085,-0.0085,-0.0085,-0.0085,-0.0085,-0.0085,-0.0085,-0.0085,-0.0085,-0.0085,-0.0085];
const LI_trans_hi90 = [0.0240,0.0170,0.0185,0.0125,0.0040,0.0030,-0.0005,0.0005,0.0030,0.0050,0.0070,0.0085,0.0100,0.0108,0.0110,0.0110,0.0108,0.0105,0.0101,0.0099,0.0097,0.0097,0.0098,0.0099,0.0100,0.0100,0.0101,0.0101,0.0102,0.0102,0.0102,0.0102,0.0103,0.0103,0.0103,0.0103,0.0103,0.0103,0.0103,0.0103];

// ---------------- ASSEMBLY ----------------
const panels = [
  [
    {med: LTFP_sur_med, lo68: LTFP_sur_lo68, hi68: LTFP_sur_hi68, lo90: LTFP_sur_lo90, hi90: LTFP_sur_hi90},
    {med: LTFP_news_med, lo68: LTFP_news_lo68, hi68: LTFP_news_hi68, lo90: LTFP_news_lo90, hi90: LTFP_news_hi90},
    {med: LTFP_perm_med, lo68: LTFP_perm_lo68, hi68: LTFP_perm_hi68, lo90: LTFP_perm_lo90, hi90: LTFP_perm_hi90},
    {med: LTFP_trans_med, lo68: LTFP_trans_lo68, hi68: LTFP_trans_hi68, lo90: LTFP_trans_lo90, hi90: LTFP_trans_hi90}
  ],
  [
    {med: LC_sur_med, lo68: LC_sur_lo68, hi68: LC_sur_hi68, lo90: LC_sur_lo90, hi90: LC_sur_hi90},
    {med: LC_news_med, lo68: LC_news_lo68, hi68: LC_news_hi68, lo90: LC_news_lo90, hi90: LC_news_hi90},
    {med: LC_perm_med, lo68: LC_perm_lo68, hi68: LC_perm_hi68, lo90: LC_perm_lo90, hi90: LC_perm_hi90},
    {med: LC_trans_med, lo68: LC_trans_lo68, hi68: LC_trans_hi68, lo90: LC_trans_lo90, hi90: LC_trans_hi90}
  ],
  [
    {med: LY_sur_med, lo68: LY_sur_lo68, hi68: LY_sur_hi68, lo90: LY_sur_lo90, hi90: LY_sur_hi90},
    {med: LY_news_med, lo68: LY_news_lo68, hi68: LY_news_hi68, lo90: LY_news_lo90, hi90: LY_news_hi90},
    {med: LY_perm_med, lo68: LY_perm_lo68, hi68: LY_perm_hi68, lo90: LY_perm_lo90, hi90: LY_perm_hi90},
    {med: LY_trans_med, lo68: LY_trans_lo68, hi68: LY_trans_hi68, lo90: LY_trans_lo90, hi90: LY_trans_hi90}
  ],
  [
    {med: LI_sur_med, lo68: LI_sur_lo68, hi68: LI_sur_hi68, lo90: LI_sur_lo90, hi90: LI_sur_hi90},
    {med: LI_news_med, lo68: LI_news_lo68, hi68: LI_news_hi68, lo90: LI_news_lo90, hi90: LI_news_hi90},
    {med: LI_perm_med, lo68: LI_perm_lo68, hi68: LI_perm_hi68, lo90: LI_perm_lo90, hi90: LI_perm_hi90},
    {med: LI_trans_med, lo68: LI_trans_lo68, hi68: LI_trans_hi68, lo90: LI_trans_lo90, hi90: LI_trans_hi90}
  ]
];

// layout (pixels)
const colLeft = [127, 435, 742, 1051];
const colWidth = [252, 252, 253, 242];   // last column is cut by the page edge
const rowTop = [62, 258, 452, 647];
const rowHeight = 158;
const xMin = -2.7;
const xMaxByCol = [41.9, 41.9, 41.9, 40.1];
const LIGHT = '#aaaaff', DARK = '#5151ff';
const tickFont = {fontFamily: 'Liberation Sans, Arial, sans-serif', fontSize: 9, color: '#333'};

function bandData(lo, hi) {
  const d = [];
  for (let i = 0; i < horizons.length - 1; i++) {
    d.push([horizons[i], lo[i], hi[i], horizons[i + 1], lo[i + 1], hi[i + 1]]);
  }
  return d;
}
function bandRenderer(color) {
  return function (params, api) {
    const a = api.coord([api.value(0), api.value(1)]);
    const b = api.coord([api.value(3), api.value(4)]);
    const c = api.coord([api.value(3), api.value(5)]);
    const d = api.coord([api.value(0), api.value(2)]);
    return {type: 'polygon', shape: {points: [a, b, c, d]}, style: {fill: color, stroke: null}};
  };
}

const grids = [], xAxes = [], yAxes = [], series = [];
let k = 0, ax = 0;
for (let r = 0; r < 4; r++) {
  for (let c = 0; c < 4; c++) {
    const p = panels[r][c];
    const lastCol = (c === 3);
    grids.push({left: colLeft[c], top: rowTop[r], width: colWidth[c], height: rowHeight,
      outerBoundsMode: 'none', containLabel: false,
      show: !lastCol, borderColor: '#555', borderWidth: 1, backgroundColor: 'transparent'});
    const xIdx = ax;
    xAxes.push({type: 'value', gridIndex: k, min: xMin, max: xMaxByCol[c], position: 'bottom',
      axisLine: {onZero: false, lineStyle: {color: '#222', width: 1}},
      axisTick: {show: true, customValues: horizons, length: 4, lineStyle: {color: '#222'}},
      axisLabel: {customValues: xLabelValues, margin: 7, ...tickFont},
      splitLine: {show: false}});
    ax++;
    if (lastCol) {
      // top frame line for the clipped last column
      xAxes.push({type: 'value', gridIndex: k, min: xMin, max: xMaxByCol[c], position: 'top',
        axisLine: {onZero: false, lineStyle: {color: '#555', width: 1}},
        axisTick: {show: false}, axisLabel: {show: false}, splitLine: {show: false}});
      ax++;
    }
    const dec = yDecimalsByRow[r];
    yAxes.push({type: 'value', gridIndex: k, min: yMinByRow[r], max: yMaxByRow[r], interval: yStepByRow[r],
      axisLine: {show: true, onZero: false, lineStyle: {color: '#222', width: 1}},
      axisTick: {show: true, length: 6, lineStyle: {color: '#222'}},
      axisLabel: {margin: 10, formatter: v => v.toFixed(dec), ...tickFont},
      splitLine: {show: false}});
    // zero line (under bands)
    series.push({type: 'line', xAxisIndex: xIdx, yAxisIndex: k, data: [], z: 1, silent: true,
      markLine: {silent: true, symbol: ['none', 'none'], label: {show: false},
        lineStyle: {color: '#222', width: 1, type: 'solid'}, data: [{yAxis: 0}]}});
    series.push({type: 'custom', xAxisIndex: xIdx, yAxisIndex: k, z: 2, silent: true,
      renderItem: bandRenderer(LIGHT), encode: {x: [0, 3], y: [1, 2, 4, 5]}, data: bandData(p.lo90, p.hi90)});
    series.push({type: 'custom', xAxisIndex: xIdx, yAxisIndex: k, z: 3, silent: true,
      renderItem: bandRenderer(DARK), encode: {x: [0, 3], y: [1, 2, 4, 5]}, data: bandData(p.lo68, p.hi68)});
    series.push({type: 'line', xAxisIndex: xIdx, yAxisIndex: k, z: 4, silent: true, showSymbol: false, symbol: 'none',
      lineStyle: {color: '#000', width: 1.2}, data: horizons.map((h, i) => [h, p.med[i]])});
    k++;
  }
}

const titleCenters = [220, 500, 849, 1171];
const rowLabelY = [148, 342, 538, 733];
const graphics = [];
shocks.forEach((s, i) => graphics.push({type: 'text', x: titleCenters[i], y: 26,
  style: {text: s, x: 0, y: 0, textAlign: 'center', textVerticalAlign: 'middle',
    font: 'bold 33px "Liberation Serif", "Times New Roman", serif', fill: '#000'}}));
variables.forEach((v, i) => graphics.push({type: 'text', x: 70, y: rowLabelY[i],
  style: {text: v, x: 0, y: 0, textAlign: 'right', textVerticalAlign: 'middle',
    font: 'bold 23px "Liberation Sans", Arial, sans-serif', fill: '#000'}}));

const chart = echarts.init(document.getElementById('c'), null, {renderer: 'canvas'});
chart.setOption({
  animation: false,
  backgroundColor: '#fff',
  grid: grids, xAxis: xAxes, yAxis: yAxes, series: series,
  graphic: {elements: graphics}
});
</script>
</body></html>
